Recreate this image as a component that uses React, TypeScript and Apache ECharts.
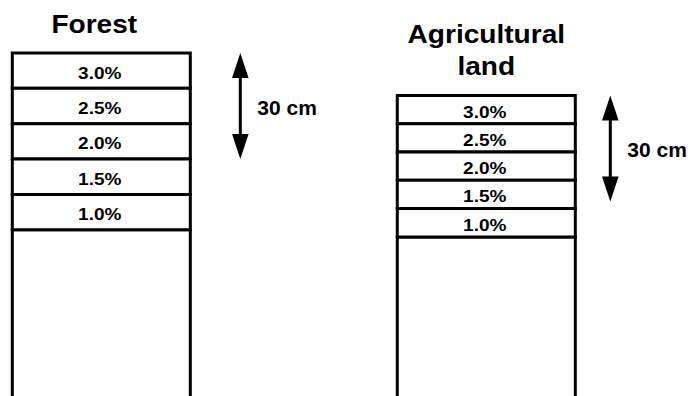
import React, { useEffect, useRef } from "react";
import * as echarts from "echarts";

// ---- data ----
const categories = ["Forest", "Agricultural\nland"];
const carbonLabels = ["3.0%", "2.5%", "2.0%", "1.5%", "1.0%"];
const surfaceDepthCm = [0, 12];
const layerThicknessCm = [10, 8];
const arrowSpanCm = [30, 30];
const arrowLabels = ["30 cm", "30 cm"];
const depthAxisMaxCm = 97;
const subsoilBottomCm = 100;

// ---- built from data ----
const layerData: number[][] = [];
const layerText: string[] = [];
categories.forEach((_, ci) => {
  carbonLabels.forEach((lab, j) => {
    const top = surfaceDepthCm[ci] + j * layerThicknessCm[ci];
    layerData.push([ci, top, top + layerThicknessCm[ci]]);
    layerText.push(lab);
  });
});
const subsoilData = categories.map((_, ci) => [
  ci,
  surfaceDepthCm[ci] + carbonLabels.length * layerThicknessCm[ci],
  subsoilBottomCm,
]);
const annotData = categories.map((_, ci) => [
  ci,
  surfaceDepthCm[ci],
  surfaceDepthCm[ci] + arrowSpanCm[ci],
]);

// ---- styles ----
const FONT = '"Liberation Sans", Arial, sans-serif';
const COL_W = 178;
const LINE_W = 3;
const ARROW_GAP = [50, 35];
const TITLE_DX = [-7, 0];

export default function App() {
  const ref = useRef<HTMLDivElement>(null);
  useEffect(() => {
    if (!ref.current) return;
    const chart = echarts.init(ref.current, null, { renderer: "svg" });

    const renderRect = (withLabel: boolean) => (params: any, api: any) => {
      const ci = api.value(0);
      const a = api.coord([ci, api.value(1)]);
      const b = api.coord([ci, api.value(2)]);
      const children: any[] = [
        {
          type: "rect",
          shape: { x: a[0] - COL_W / 2, y: a[1], width: COL_W, height: b[1] - a[1] },
          style: { fill: withLabel ? "#fff" : "none", stroke: "#000", lineWidth: LINE_W },
        },
      ];
      if (withLabel) {
        children.push({
          type: "text",
          x: a[0] - 1.5,
          y: (a[1] + b[1]) / 2 + 2.4,
          scaleX: 1.12,
          style: {
            text: layerText[params.dataIndex],
            align: "center",
            verticalAlign: "middle",
            fill: "#000",
            fontSize: 17,
            fontWeight: "bold",
            fontFamily: FONT,
          },
        });
      }
      return { type: "group", children };
    };

    const renderAnnot = (params: any, api: any) => {
      const ci = api.value(0);
      const t = api.coord([ci, api.value(1)]);
      const b = api.coord([ci, api.value(2)]);
      const cx = t[0];
      const ax = cx + COL_W / 2 + ARROW_GAP[ci];
      const hw = 8.3, hl = 25, sw = 1.5;
      const yT = t[1], yB = b[1];
      const pts = [
        [ax, yT],
        [ax + hw, yT + hl],
        [ax + sw, yT + hl],
        [ax + sw, yB - hl],
        [ax + hw, yB - hl],
        [ax, yB],
        [ax - hw, yB - hl],
        [ax - sw, yB - hl],
        [ax - sw, yT + hl],
        [ax - hw, yT + hl],
      ];
      return {
        type: "group",
        children: [
          { type: "polygon", shape: { points: pts }, style: { fill: "#000" } },
          {
            type: "text",
            x: ax + 17,
            y: (yT + yB) / 2 + 1,
            style: {
              text: arrowLabels[ci],
              align: "left",
              verticalAlign: "middle",
              fill: "#000",
              fontSize: 21,
              fontWeight: "bold",
              fontFamily: FONT,
            },
          },
          {
            type: "text",
            x: cx + TITLE_DX[ci],
            y: yT - 13,
            scaleX: 1.08,
            style: {
              text: categories[ci],
              align: "center",
              verticalAlign: "bottom",
              lineHeight: 32,
              fill: "#000",
              fontSize: 26,
              fontWeight: "bold",
              fontFamily: FONT,
            },
          },
        ],
      };
    };

    chart.setOption({
      animation: false,
      backgroundColor: "#fff",
      grid: { left: 101.3, right: 201.7, top: 53, bottom: 0, containLabel: false },
      xAxis: { type: "category", data: categories, show: false, boundaryGap: false },
      yAxis: { type: "value", min: 0, max: depthAxisMaxCm, inverse: true, show: false },
      series: [
        { type: "custom", name: "subsoil", data: subsoilData, renderItem: renderRect(false), clip: false },
        { type: "custom", name: "layers", data: layerData, renderItem: renderRect(true), clip: false },
        { type: "custom", name: "annotations", data: annotData, renderItem: renderAnnot, clip: false },
      ],
    });
    return () => chart.dispose();
  }, []);
  return (
    <div
      ref={ref}
      style={{ position: "absolute", left: 0, top: 0, width: 688, height: 396, background: "#fff" }}
    />
  );
}
